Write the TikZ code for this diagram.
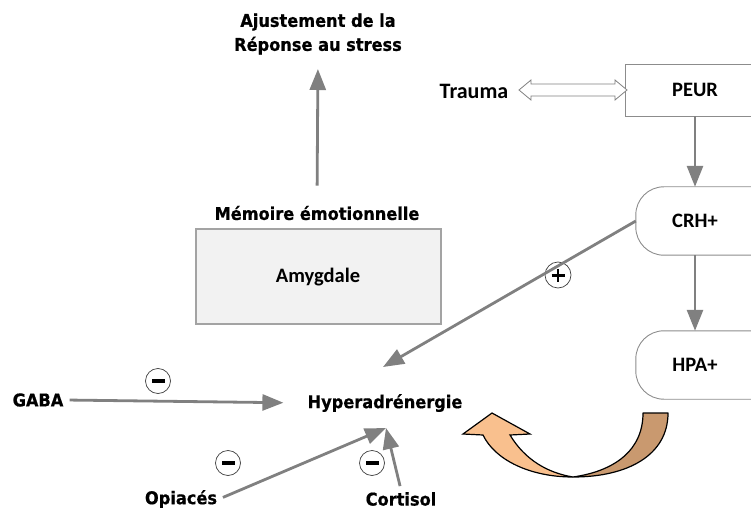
\documentclass[tikz,border=0pt]{standalone}
\usepackage{fontspec}
\newfontfamily\tahfont[FakeStretch=0.92, BoldFeatures={FakeBold=0.6}]{DejaVu Sans}
\newfontfamily\calfont{Carlito}
\usetikzlibrary{arrows.meta,calc}
\definecolor{arrgray}{HTML}{808080}
\definecolor{boxgray}{HTML}{F2F2F2}
\definecolor{edgegray}{HTML}{8C8C8C}
\definecolor{brownfill}{HTML}{C9996F}
\definecolor{peachfill}{HTML}{F9C08E}
\tikzset{
  tahtxt/.style={font=\tahfont\bfseries\fontsize{17.6}{24}\selectfont, inner sep=2pt, align=center},
  caltxt/.style={font=\calfont\bfseries\fontsize{20.5}{24}\selectfont, inner sep=2pt},
  garrow/.style={draw=arrgray, line width=2.8pt, -{Triangle[length=21pt,width=16pt]}},
  boxline/.style={draw=edgegray, line width=0.9pt},
  signcirc/.style={draw=black!75, line width=0.7pt},
}
\begin{document}
\begin{tikzpicture}[x=1pt,y=-1pt]
\useasboundingbox (0,0) rectangle (751,510);
% boxes (open on the right: they run past the picture's edge)
\node[minimum width=174pt, minimum height=51pt, inner sep=0pt] (peurbox) at (713,90.5) {};
\draw[boxline] (peurbox.north east) -- (peurbox.north west) -- (peurbox.south west) -- (peurbox.south east);
\node[caltxt] (peur) at (695,90) {PEUR};
\node[minimum width=164pt, minimum height=68pt, inner sep=0pt] (crhbox) at (718,221) {};
\draw[boxline, rounded corners=28pt] (crhbox.north east) -- (crhbox.north west) -- (crhbox.south west) -- (crhbox.south east);
\node[caltxt] (crh) at (695,221) {CRH+};
\node[minimum width=164pt, minimum height=68pt, inner sep=0pt] (hpabox) at (718,365) {};
\draw[boxline, rounded corners=28pt] (hpabox.north east) -- (hpabox.north west) -- (hpabox.south west) -- (hpabox.south east);
\node[caltxt] (hpa) at (695,365) {HPA+};
\node[draw=edgegray!80, line width=1.2pt, fill=boxgray, minimum width=245pt, minimum height=95pt] (amybox) at (318.5,276.5) {};
\node[caltxt] (amy) at (318,277) {Amygdale};
% texts
\node[tahtxt] (ajust) at (318,34) {Ajustement de la\\Réponse au stress};
\node[tahtxt] (memoire) at (317,213) {Mémoire émotionnelle};
\node[font=\calfont\bfseries\fontsize{22}{24}\selectfont, inner sep=2pt] (trauma) at (474,91) {Trauma};
\node[tahtxt] (hyper) at (385,403) {Hyperadrénergie};
\node[tahtxt] (gaba) at (38,400) {GABA};
\node[tahtxt] (opiaces) at (181,499) {Opiacés};
\node[tahtxt] (cortisol) at (401,499) {Cortisol};
% convergence points
\coordinate (hytop) at (383,367);
\coordinate (hybot) at (386,428);
% arrows
\draw[garrow, shorten <=18pt, shorten >=12pt] (memoire.north) -- (318,57);
\draw[garrow] (peurbox.south -| peur) -- (crhbox.north -| crh);
\draw[garrow] (crhbox.south -| crh) -- (hpabox.north -| hpa);
\draw[signcirc] (558,275) circle (13pt);
\draw[garrow] (crhbox.west) -- (hytop);
\draw[garrow, shorten <=4pt, shorten >=22pt] (gaba.east) -- (hyper.west);
\draw[garrow, shorten <=4pt] (opiaces.east) -- (hybot);
\draw[garrow, shorten <=4pt] (cortisol.north) -- (hybot);
% plus sign
\draw[black, line width=2.8pt] (551.5,275.5) -- (564.5,275.5) (558,269) -- (558,282);
% minus circles
\foreach \cx/\cy in {158/381, 228/463, 372/463}{
  \draw[signcirc, fill=white] (\cx,\cy) circle (12.5pt);
  \fill[black] (\cx-6.5,\cy-2) rectangle (\cx+6.5,\cy+2);
}
% double hollow arrow Trauma <-> PEUR
\draw[draw=arrgray, line width=0.8pt, fill=white, line join=miter]
  (519,90) -- (531,80) -- (531,84) -- (615,84) -- (615,80) -- (627,90)
  -- (615,100) -- (615,96) -- (531,96) -- (531,100) -- cycle;
% curved U arrow
\draw[black, line width=1.2pt, fill=brownfill, line join=round]
  (643,413) -- (668,413) .. controls (668,455) and (628,477) .. (573,477)
  .. controls (615,471) and (643,450) .. (643,413) -- cycle;
\draw[black, line width=1.2pt, fill=peachfill, line join=miter]
  (573,477) .. controls (530,477) and (495,460) .. (483,435)
  -- (463,434) -- (492,413) -- (530,434) -- (510,435)
  .. controls (525,460) and (548,473) .. (573,477) -- cycle;
\end{tikzpicture}
\end{document}
